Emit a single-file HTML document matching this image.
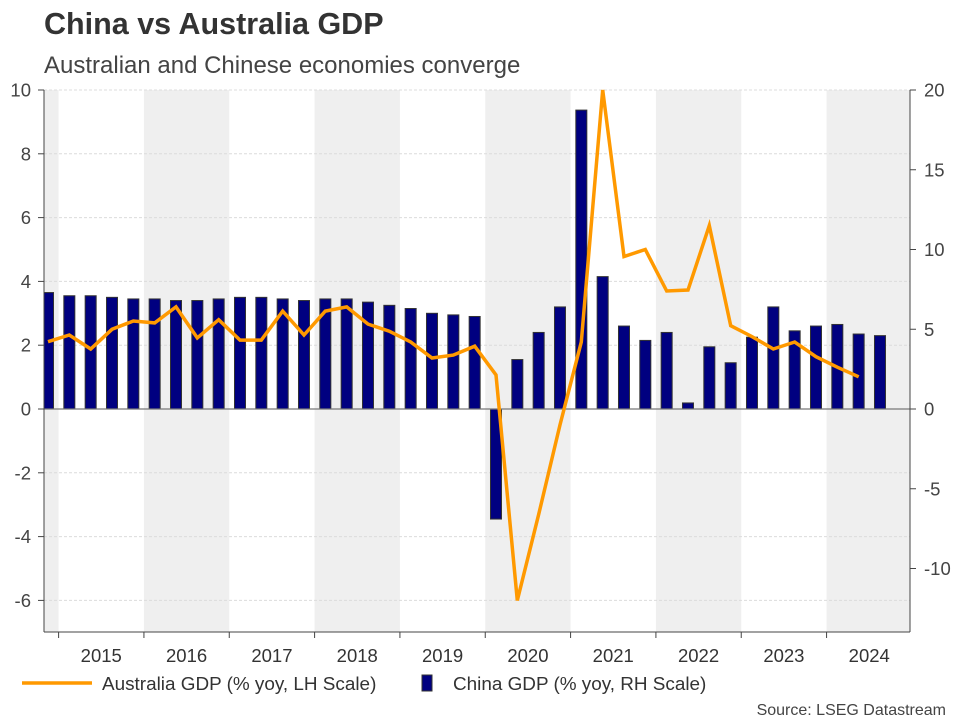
<!DOCTYPE html>
<html><head><meta charset="utf-8"><style>
body{margin:0;background:#fff;}
svg{display:block;font-family:"Liberation Sans",Arial,sans-serif;}
</style></head><body>
<svg id="s" width="960" height="720" viewBox="0 0 960 720" xmlns="http://www.w3.org/2000/svg">
<text x="44" y="34" font-size="30.5" font-weight="bold" fill="#333">China vs Australia GDP</text>
<text x="44" y="73" font-size="24" fill="#444">Australian and Chinese economies converge</text>
<g id="bands"></g>
<g id="grid"></g>
<g id="bars"></g>
<line x1="44" y1="409" x2="910" y2="409" stroke="#777" stroke-width="1.2"/>
<polyline id="line" fill="none" stroke="#FF9900" stroke-width="3.5" stroke-linejoin="miter"/>
<g id="axes"></g>
<line x1="22" y1="683" x2="92" y2="683" stroke="#FF9900" stroke-width="3.5"/>
<text x="102" y="690" font-size="18.9" fill="#333">Australia GDP (% yoy, LH Scale)</text>
<rect x="422" y="675" width="10" height="16" fill="#000080" stroke="#333"/>
<text x="453" y="690" font-size="18.9" fill="#333">China GDP (% yoy, RH Scale)</text>
<text x="946" y="715" font-size="16" fill="#444" text-anchor="end">Source: LSEG Datastream</text>
</svg>
<script>
const NS="http://www.w3.org/2000/svg";
function el(p,t,a,txt){const e=document.createElementNS(NS,t);for(const k in a)e.setAttribute(k,a[k]);if(txt!==undefined)e.textContent=txt;document.getElementById(p).appendChild(e);return e;}
const Y=v=>409-31.9*v;
const yw=85.33, x2015=58.6;
el("bands","rect",{x:44,y:90,width:x2015-44,height:542,fill:"#efefef"});
for(let k=1;k<10;k+=2){let x=x2015+k*yw;let w=Math.min(yw,910-x);el("bands","rect",{x:x,y:90,width:w,height:542,fill:"#efefef"});}
for(let v=-6;v<=10;v+=2){if(v==0)continue;el("grid","line",{x1:44,x2:910,y1:Y(v),y2:Y(v),stroke:"#dcdcdc","stroke-dasharray":"3,2","stroke-width":1});}
const bars=[3.65,3.55,3.55,3.5,3.45,3.45,3.4,3.4,3.45,3.5,3.5,3.45,3.4,3.45,3.45,3.35,3.25,3.15,3.0,2.95,2.9,-3.45,1.55,2.4,3.2,9.37,4.15,2.6,2.15,2.4,0.19,1.95,1.45,2.25,3.2,2.45,2.6,2.65,2.35,2.3];
const line=[2.11,2.32,1.88,2.5,2.76,2.7,3.2,2.23,2.8,2.16,2.16,3.07,2.32,3.07,3.2,2.66,2.44,2.1,1.6,1.69,1.97,1.07,-6.0,-3.3,-0.5,2.1,10.0,4.78,5.0,3.7,3.73,5.75,2.61,2.27,1.88,2.1,1.64,1.31,1.01];
const X=i=>48+21.333*i;
bars.forEach((b,i)=>{let x=X(i)-5.5,w=11;if(x<44){w-=44-x;x=44;}let y=Math.min(Y(b),409),h=Math.abs(Y(b)-409);el("bars","rect",{x:x,y:y,width:w,height:h,fill:"#000080",stroke:"#333","stroke-width":1});});
document.getElementById("line").setAttribute("points",line.map((v,i)=>X(i).toFixed(1)+","+Y(v).toFixed(1)).join(" "));
el("axes","line",{x1:44,y1:90,x2:44,y2:632,stroke:"#444"});
el("axes","line",{x1:910,y1:90,x2:910,y2:632,stroke:"#444"});
el("axes","line",{x1:44,y1:632,x2:910,y2:632,stroke:"#444"});
for(let v=-6;v<=10;v+=2){el("axes","line",{x1:38,x2:44,y1:Y(v),y2:Y(v),stroke:"#444"});el("axes","text",{x:31,y:Y(v)+6.5,"font-size":18.5,fill:"#444","text-anchor":"end"},String(v));}
for(let v=-10;v<=20;v+=5){let y=409-15.95*v;el("axes","line",{x1:910,x2:916,y1:y,y2:y,stroke:"#444"});el("axes","text",{x:924,y:y+6.5,"font-size":18.5,fill:"#444"},String(v));}
for(let k=0;k<10;k++){let x=x2015+k*yw;el("axes","line",{x1:x,x2:x,y1:632,y2:638,stroke:"#444"});el("axes","text",{x:x+yw/2,y:662,"font-size":18.5,fill:"#333","text-anchor":"middle"},String(2015+k));}
</script>
</body></html>
